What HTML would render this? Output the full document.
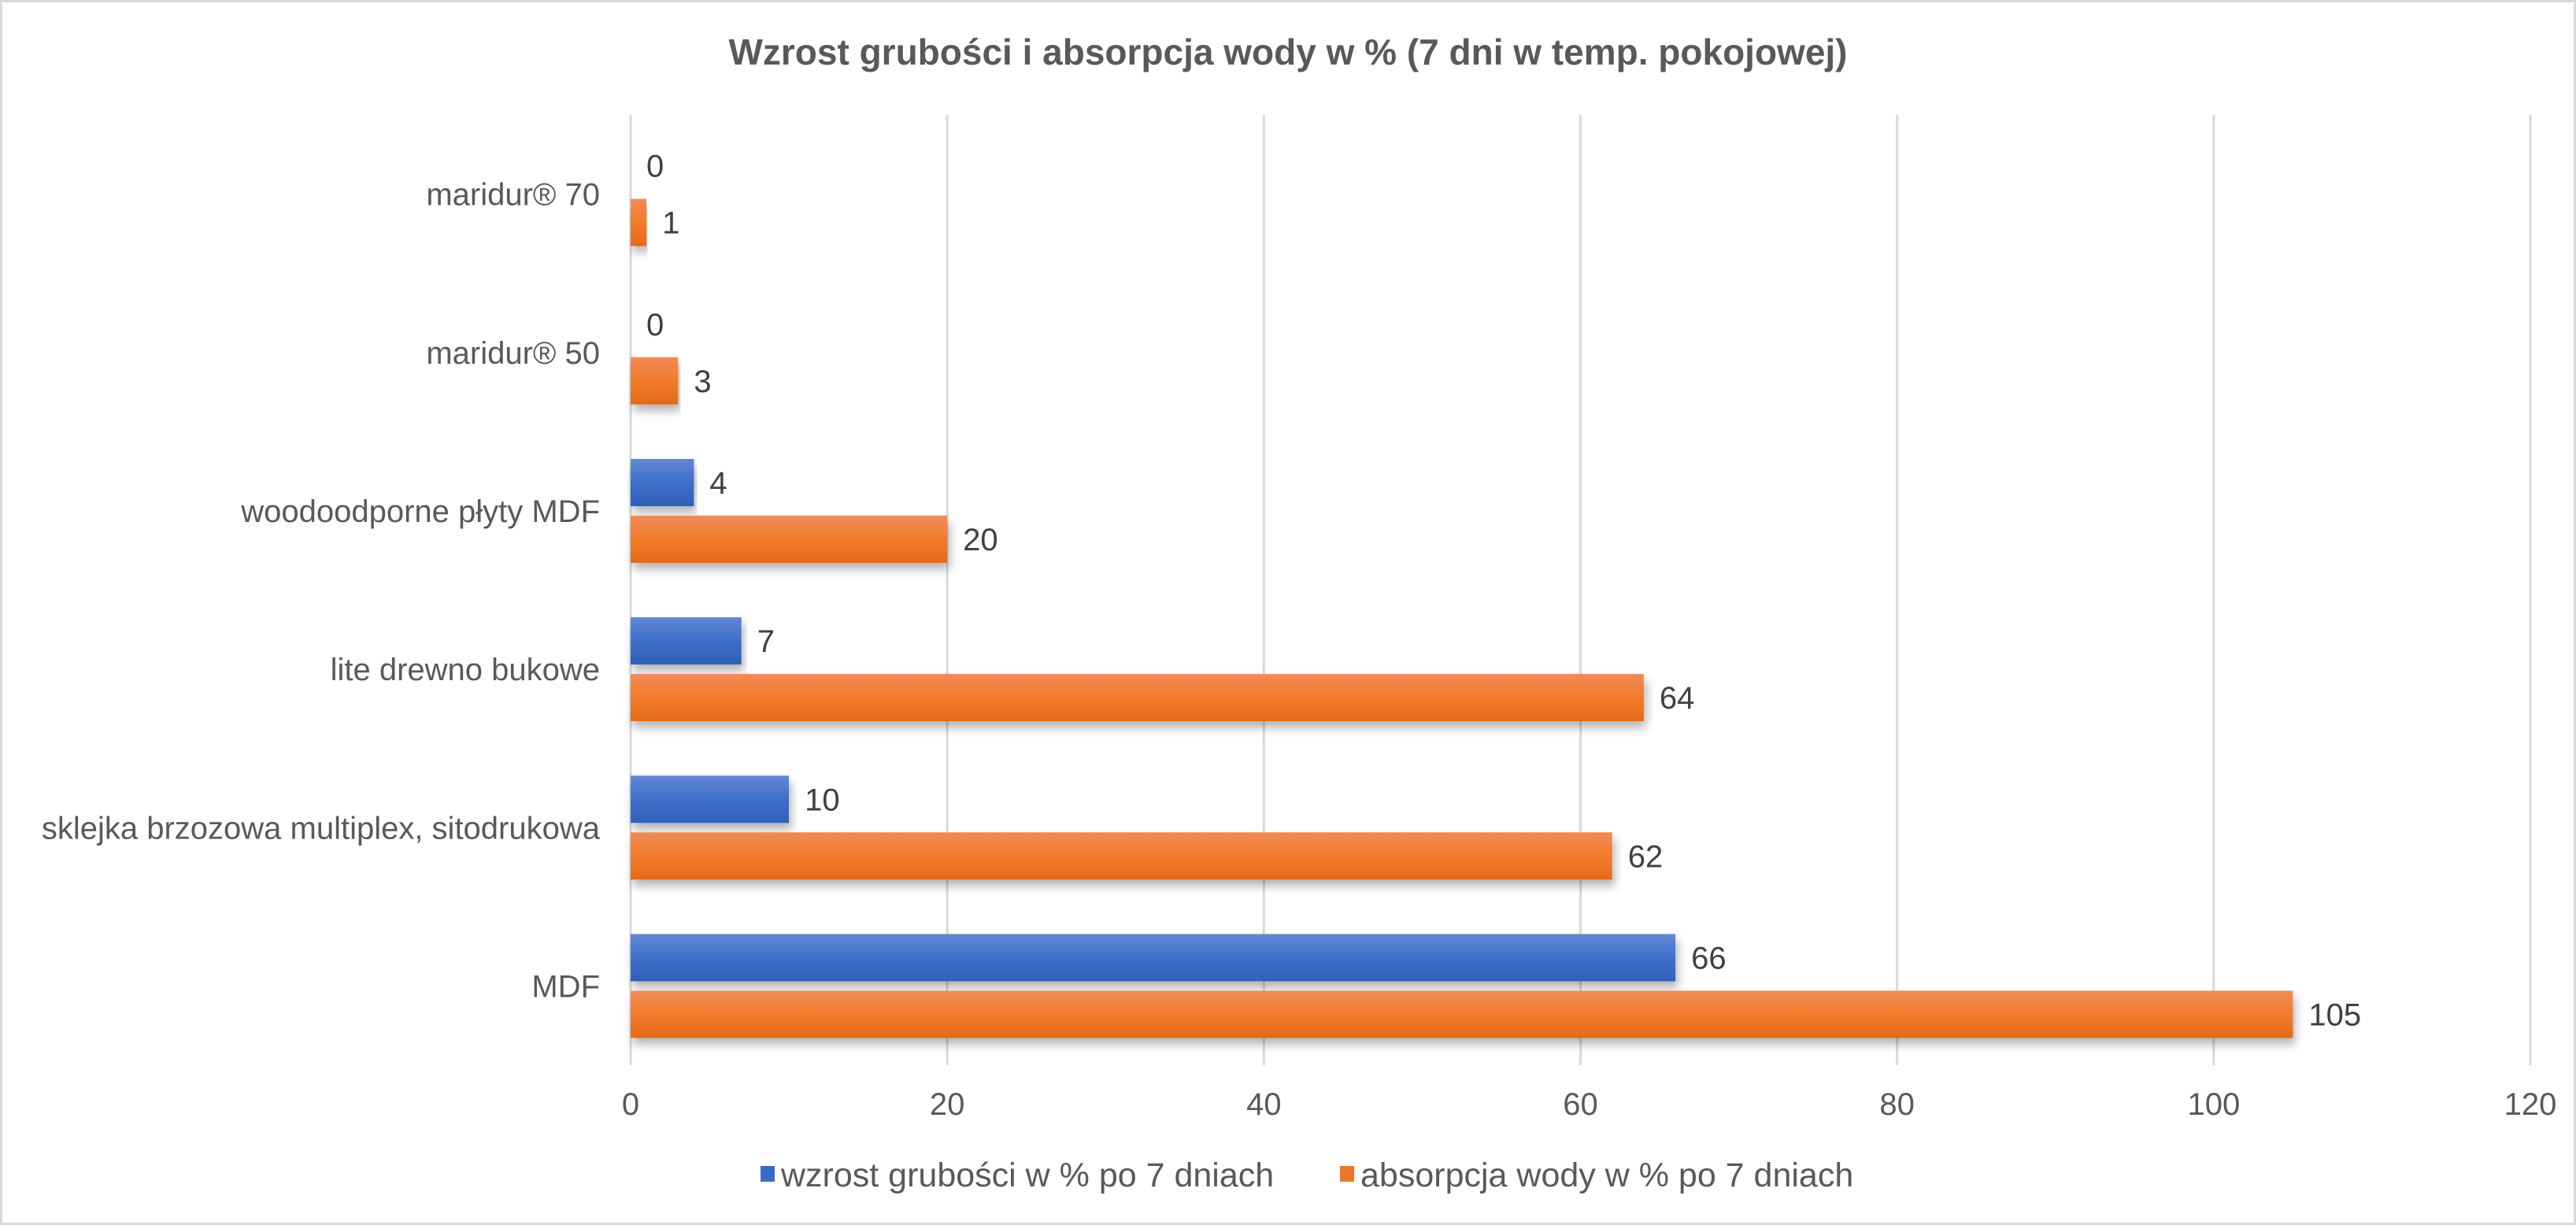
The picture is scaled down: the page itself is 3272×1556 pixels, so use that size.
<!DOCTYPE html>
<html><head><meta charset="utf-8"><style>
html,body{margin:0;padding:0;background:#fff;}
svg{display:block;font-family:"Liberation Sans",Arial,sans-serif;}
</style></head><body>
<svg id="chart" width="3272" height="1556" viewBox="0 0 3272 1556" xmlns="http://www.w3.org/2000/svg">
<defs>
<linearGradient id="gBlue" x1="0" y1="0" x2="0" y2="1"><stop offset="0" stop-color="#6189d3"/><stop offset="0.5" stop-color="#3f6fca"/><stop offset="1" stop-color="#2e60b8"/></linearGradient>
<linearGradient id="gOrange" x1="0" y1="0" x2="0" y2="1"><stop offset="0" stop-color="#f08c57"/><stop offset="0.5" stop-color="#f27b2c"/><stop offset="1" stop-color="#e36a18"/></linearGradient>
<filter id="sh" x="-5%" y="-20%" width="110%" height="160%"><feDropShadow dx="3" dy="8" stdDeviation="6" flood-color="#000" flood-opacity="0.3"/></filter>
</defs>
<rect x="1.5" y="1.5" width="3269" height="1553" fill="#fff" stroke="#d9d9d9" stroke-width="3"/>
<text x="1636" y="82" text-anchor="middle" font-size="46" font-weight="bold" fill="#595959">Wzrost grubości i absorpcja wody w % (7 dni w temp. pokojowej)</text>
<g id="grid"></g>
<g id="bars"></g>
<g id="labels"></g>
<g>
<rect x="966" y="1481" width="18" height="20" fill="#3a6cc6"/>
<text x="992" y="1507" font-size="43" fill="#595959">wzrost grubości w % po 7 dniach</text>
<rect x="1702" y="1481" width="18" height="20" fill="#ee7628"/>
<text x="1728" y="1507" font-size="43" fill="#595959">absorpcja wody w % po 7 dniach</text>
</g>
</svg>
<script>
const categories = ["maridur® 70","maridur® 50","woodoodporne płyty MDF","lite drewno bukowe","sklejka brzozowa multiplex, sitodrukowa","MDF"];
const thickness = [0,0,4,7,10,66];
const absorption = [1,3,20,64,62,105];
const ticks = [0,20,40,60,80,100,120];
(function(){
const NS="http://www.w3.org/2000/svg";
const x0=801, x1=3214, yTop=146, yBottom=1353, vmax=120;
const xs=v=>x0+(v/vmax)*(x1-x0);
const band=(yBottom-yTop)/categories.length;
function mk(tag,attrs,parent,txt){const e=document.createElementNS(NS,tag);for(const k in attrs)e.setAttribute(k,attrs[k]);if(txt!==undefined)e.textContent=txt;parent.appendChild(e);return e;}
const g=document.getElementById('grid'),b=document.getElementById('bars'),l=document.getElementById('labels');
ticks.forEach(t=>{
  const ln=mk('line',{x1:xs(t),x2:xs(t),y1:yTop,y2:yBottom,stroke:'#d9d9d9','stroke-width':3},g);
  
  
  const tx=mk('text',{x:xs(t),y:1416,'text-anchor':'middle','font-size':40,fill:'#595959'},l,String(t));
  
  
});
categories.forEach((c,i)=>{
  const cy=yTop+band*(i+0.5);
  const ct=mk('text',{x:762,y:cy+14,'text-anchor':'end','font-size':40,fill:'#595959'},l,c);
  
  
  [[thickness[i],'url(#gBlue)',cy-66],[absorption[i],'url(#gOrange)',cy+6]].forEach(([v,f,y],k)=>{
    if(v>0){
      const r=mk('rect',{x:x0,y:y,width:xs(v)-x0,height:60,fill:f,filter:'url(#sh)'},b);
      
      
    }
    const vt=mk('text',{x:xs(v)+20,y:y+44,'font-size':40,fill:'#404040'},l,String(v));
    
    
  });
});
})();
</script>
</body></html>
